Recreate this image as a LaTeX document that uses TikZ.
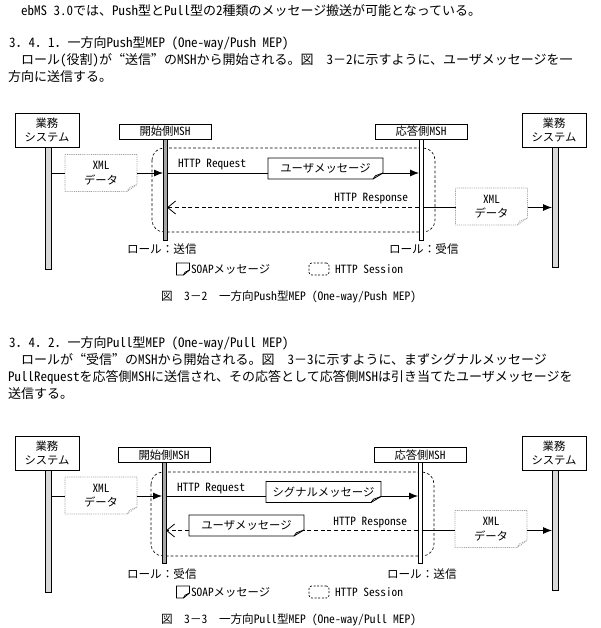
\documentclass[tikz,border=0pt]{standalone}
\usepackage{fontspec}
\setmainfont{Noto Sans CJK JP}
\newfontfamily\hwf{Noto Sans CJK JP}[RawFeature=+hwid]
\newfontfamily\fwf{Noto Sans CJK JP}[RawFeature=+fwid]
\newcommand\hw[1]{{\hwf #1}}
\newcommand\oq{{\fwf “}}
\newcommand\cq{{\fwf ”}}
\usetikzlibrary{arrows.meta}
\newlength\pxl \setlength\pxl{0.75pt}
\newcommand\bodyf{\fontsize{9.75pt}{12pt}\selectfont}
\newcommand\diagf{\fontsize{8.5pt}{10.8pt}\selectfont}
\newcommand\rolef{\fontsize{8.7pt}{10.8pt}\selectfont}
\pgfdeclarelayer{bg}
\pgfsetlayers{bg,main}
% #1 node name, #2 style, #3 fold x, #4 fold y
\newcommand\foldnote[4]{%
  \filldraw[#2, fill=white] (#1.north west) -- (#1.north east) -- ([shift={(0,-#4)}]#1.south east)
     -- ([shift={(-#3,0)}]#1.south east) -- (#1.south west) -- cycle;
  \draw[#2] ([shift={(-#3,0)}]#1.south east) -- ([shift={(-0.75*#3,-0.55*#4)}]#1.south east)
     -- ([shift={(0,-#4)}]#1.south east);}
\begin{document}
\begin{tikzpicture}[x=0.75pt,y=-0.75pt,
  every node/.style={inner sep=0pt, outer sep=0pt},
  txt/.style={anchor=west, font=\bodyf},
  role/.style={anchor=west, font=\rolef},
  sysbox/.style={draw, fill=white, line width=0.7pt, minimum width=64\pxl, minimum height=34\pxl, align=center, font=\diagf},
  mshbox/.style={draw, fill=white, line width=0.7pt, minimum width=92\pxl, minimum height=15\pxl, font=\diagf},
  syslife/.style={draw, fill=gray!30, line width=0.6pt, minimum width=6\pxl, anchor=north},
  ilife/.style={draw, fill=gray!70, line width=0.5pt, minimum width=4\pxl, anchor=north},
  rlife/.style={draw, fill=white, line width=0.5pt, minimum width=4\pxl, anchor=north},
  xmlnote/.style={minimum width=72\pxl, minimum height=37\pxl, align=center, font=\diagf},
  msgnote/.style={minimum width=115\pxl, minimum height=21\pxl, font=\diagf},
  xmlline/.style={draw=gray!75, line width=0.5pt, dash pattern=on 0.7pt off 0.7pt},
  msgline/.style={draw=black, line width=0.6pt},
  conn/.style={line width=0.6pt},
  farrow/.style={conn, -{Latex[length=6.75pt, width=5.25pt]}},
  oarrow/.style={conn, dash pattern=on 3pt off 2pt, -{Straight Barb[length=6pt, width=9.75pt, line width=0.6pt]}},
  sess/.style={line width=0.5pt, dash pattern=on 2pt off 1.6pt, rounded corners=9pt},
  sessicon/.style={draw, line width=0.5pt, dash pattern=on 1.5pt off 1.2pt, rounded corners=2pt, minimum width=20\pxl, minimum height=12\pxl},
  soapicon/.style={minimum width=13\pxl, minimum height=12\pxl},
]
\useasboundingbox (0,0) rectangle (600,628);

% ---------------- text block 1
\node[txt] (t1) at (8,11) {　\hw{ebMS 3.0}では、\hw{Push}型と\hw{Pull}型の\hw{2}種類のメッセージ搬送が可能となっている。};
\node[txt] (h1) at (9,43) {\hw{3}．\hw{4}．\hw{1}．一方向\hw{Push}型\hw{MEP (One-way/Push MEP)}};
\node[txt] (p1) at (8,60) {　ロール\hw{(}役割\hw{)}が\oq 送信\cq の\hw{MSH}から開始される。図　\hw{3}－\hw{2}に示すように、ユーザメッセージを一};
\node[txt] (p2) at (8,77) {方向に送信する。};

% ---------------- diagram 1
\node[sysbox] (ls1) at (47,130) {業務\\システム};
\node[sysbox] (rs1) at (554,130) {業務\\システム};
\node[mshbox] (im1) at (165,131.5) {開始側\hw{MSH}};
\node[mshbox] (rm1) at (421,131.5) {応答側\hw{MSH}};
\begin{pgfonlayer}{bg}
\draw[sess] (152,148) rectangle (435,232);
\end{pgfonlayer}
\node[syslife, minimum height=122\pxl] (ls1l) at ([xshift=1\pxl]ls1.south) {};
\node[syslife, minimum height=120\pxl] (rs1l) at ([xshift=1\pxl]rs1.south) {};
\node[ilife, minimum height=101\pxl] (im1l) at (im1.south) {};
\node[rlife, minimum height=101\pxl] (rm1l) at (rm1.south) {};

\node[xmlnote] (xml1) at (101,173) {\hw{XML}\\データ};
\node[xmlnote] (xml2) at (491.5,206.5) {\hw{XML}\\データ};
\node[msgnote] (um1) at (325.5,168.5) {ユーザメッセージ};
\begin{pgfonlayer}{bg}
\foldnote{xml1}{xmlline}{10}{7}
\foldnote{xml2}{xmlline}{10}{7}
\foldnote{um1}{msgline}{10}{6}
\end{pgfonlayer}
\coordinate (r1a) at (0,173);
\coordinate (r1b) at (0,207.5);
\draw[conn] (ls1l.east |- r1a) -- (xml1.west |- r1a);
\draw[farrow] (xml1.east |- r1a) -- (im1l.west |- r1a);
\draw[conn] (im1l.east |- r1a) -- (um1.west |- r1a);
\draw[farrow] (um1.east |- r1a) -- (rm1l.west |- r1a);
\node[anchor=west, font=\diagf] (req1) at (178,165) {\hw{HTTP Request}};
\draw[oarrow] (rm1l.west |- r1b) -- (im1l.east |- r1b);
\node[anchor=east, font=\diagf] (res1) at (408,199) {\hw{HTTP Response}};
\draw[conn] (rm1l.east |- r1b) -- (xml2.west |- r1b);
\draw[farrow] (xml2.east |- r1b) -- (rs1l.west |- r1b);
\node[role] (role1a) at (127,249.5) {ロール：送信};
\node[role] (role1b) at (389,249.5) {ロール：受信};

\node[soapicon] (soap1) at (183,269) {};
\begin{pgfonlayer}{bg}\foldnote{soap1}{msgline}{6}{5}\end{pgfonlayer}
\node[anchor=west, font=\diagf] (soap1t) at (191,269) {\hw{SOAP}メッセージ};
\node[sessicon] (sess1) at (319,269) {};
\node[anchor=west, font=\diagf] (sess1t) at (335,269) {\hw{HTTP Session}};
\node[role] (cap1) at (161,297) {図　\hw{3}－\hw{2}　一方向\hw{Push}型\hw{MEP (One-way/Push MEP)}};

% ---------------- text block 2
\node[txt] (h2) at (9,343) {\hw{3}．\hw{4}．\hw{2}．一方向\hw{Pull}型\hw{MEP (One-way/Pull MEP)}};
\node[txt] (p3) at (8,360) {　ロールが\oq 受信\cq の\hw{MSH}から開始される。図　\hw{3}－\hw{3}に示すように、まずシグナルメッセージ};
\node[txt] (p4) at (8,377) {\hw{PullRequest}を応答側\hw{MSH}に送信され、その応答として応答側\hw{MSH}は引き当てたユーザメッセージを};
\node[txt] (p5) at (8,394) {送信する。};

% ---------------- diagram 2
\node[sysbox] (ls2) at (47,453) {業務\\システム};
\node[sysbox] (rs2) at (554,453) {業務\\システム};
\node[mshbox] (im2) at (164,455) {開始側\hw{MSH}};
\node[mshbox] (rm2) at (420,455) {応答側\hw{MSH}};
\begin{pgfonlayer}{bg}
\draw[sess] (151,472) rectangle (434,556);
\end{pgfonlayer}
\node[syslife, minimum height=122\pxl] (ls2l) at ([xshift=1\pxl]ls2.south) {};
\node[syslife, minimum height=120\pxl] (rs2l) at ([xshift=1\pxl]rs2.south) {};
\node[ilife, minimum height=101\pxl] (im2l) at (im2.south) {};
\node[rlife, minimum height=101\pxl] (rm2l) at (rm2.south) {};

\node[xmlnote] (xml3) at (101,495.5) {\hw{XML}\\データ};
\node[xmlnote] (xml4) at (491,529) {\hw{XML}\\データ};
\node[msgnote] (sm2) at (323.5,492) {シグナルメッセージ};
\node[msgnote] (um2) at (246.5,525.5) {ユーザメッセージ};
\begin{pgfonlayer}{bg}
\foldnote{xml3}{xmlline}{10}{7}
\foldnote{xml4}{xmlline}{10}{7}
\foldnote{sm2}{msgline}{10}{6}
\foldnote{um2}{msgline}{10}{6}
\end{pgfonlayer}
\coordinate (r2a) at (0,496);
\coordinate (r2b) at (0,530.5);
\draw[conn] (ls2l.east |- r2a) -- (xml3.west |- r2a);
\draw[farrow] (xml3.east |- r2a) -- (im2l.west |- r2a);
\draw[conn] (im2l.east |- r2a) -- (sm2.west |- r2a);
\draw[farrow] (sm2.east |- r2a) -- (rm2l.west |- r2a);
\node[anchor=west, font=\diagf] (req2) at (177,489) {\hw{HTTP Request}};
\draw[conn, dash pattern=on 3pt off 2pt] (rm2l.west |- r2b) -- (um2.east |- r2b);
\draw[oarrow] (um2.west |- r2b) -- (im2l.east |- r2b);
\node[anchor=east, font=\diagf] (res2) at (407,523) {\hw{HTTP Response}};
\draw[conn] (rm2l.east |- r2b) -- (xml4.west |- r2b);
\draw[farrow] (xml4.east |- r2b) -- (rs2l.west |- r2b);
\node[role] (role2a) at (127,574) {ロール：受信};
\node[role] (role2b) at (387,574) {ロール：送信};

\node[soapicon] (soap2) at (183,592) {};
\begin{pgfonlayer}{bg}\foldnote{soap2}{msgline}{6}{5}\end{pgfonlayer}
\node[anchor=west, font=\diagf] (soap2t) at (191,592) {\hw{SOAP}メッセージ};
\node[sessicon] (sess2) at (319,592) {};
\node[anchor=west, font=\diagf] (sess2t) at (335,592) {\hw{HTTP Session}};
\node[role] (cap2) at (161,620) {図　\hw{3}－\hw{3}　一方向\hw{Pull}型\hw{MEP (One-way/Pull MEP)}};
\end{tikzpicture}
\end{document}
